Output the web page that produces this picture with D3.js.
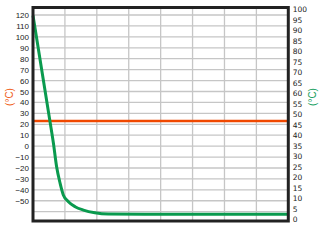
<!DOCTYPE html>
<html>
<head>
<meta charset="utf-8">
<script src="https://cdn.jsdelivr.net/npm/d3@7"></script>
<style>
  html, body { margin: 0; padding: 0; background: #fff; }
  .tick text { fill: #222; }
</style>
</head>
<body>
<div id="chart"></div>
<script>
"use strict";

// left axis (orange, °C), right axis (green, °C)
const leftTicks = [120, 110, 100, 90, 80, 70, 60, 50, 40, 30, 20, 10, 0, -10, -20, -30, -40, -50];
const leftGrid = [120, 110, 100, 90, 80, 70, 60, 50, 40, 30, 20, 10, 0, -10, -20, -30, -40, -50, -60];
const rightTicks = [100, 95, 90, 85, 80, 75, 70, 65, 60, 55, 50, 45, 40, 35, 30, 25, 20, 15, 10, 5, 0];
const xGrid = [10, 20, 30, 40, 50, 60, 70];

// green cooling curve (right axis)
const greenTime = [0, 5.3, 6.4, 7.4, 8.5, 9.5, 11.1, 13.2, 15.8, 19.4, 23.6, 35, 52, 80];
const greenTemp = [97, 46.8, 36.2, 25.0, 17.1, 11.6, 8.4, 6.0, 4.4, 3.1, 2.5, 2.4, 2.4, 2.4];

// orange constant line (left axis)
const orangeTemp = 23;

const W = 324, H = 246;
const frame = { left: 33, right: 288.3, top: 7.5, bottom: 221 };

const svg = d3.select('#chart')
  .append('svg')
  .attr('width', W)
  .attr('height', H);

const x = d3.scaleLinear()
  .domain([0, 80])
  .range([frame.left, frame.right]);

const yLeft = d3.scaleLinear()
  .domain([-60, 120])
  .range([211.7, 15]);

const yRight = d3.scaleLinear()
  .domain([0, 100])
  .range([219.3, 9.3]);

// grid
const grid = svg.append('g')
  .attr('stroke', '#c6c6c6')
  .attr('stroke-width', 1.3);

grid.selectAll('line.h')
  .data(leftGrid)
  .enter().append('line')
  .attr('class', 'h')
  .attr('x1', frame.left)
  .attr('x2', frame.right)
  .attr('y1', d => yLeft(d))
  .attr('y2', d => yLeft(d));

grid.selectAll('line.v')
  .data(xGrid)
  .enter().append('line')
  .attr('class', 'v')
  .attr('x1', d => x(d))
  .attr('x2', d => x(d))
  .attr('y1', frame.top)
  .attr('y2', frame.bottom);

// orange line
svg.append('line')
  .attr('x1', frame.left)
  .attr('x2', frame.right)
  .attr('y1', yLeft(orangeTemp))
  .attr('y2', yLeft(orangeTemp))
  .attr('stroke', '#f04800')
  .attr('stroke-width', 2.6);

// green curve
const greenData = greenTime.map((t, i) => ({ x: t, y: greenTemp[i] }));

const line = d3.line()
  .x(d => x(d.x))
  .y(d => yRight(d.y))
  .curve(d3.curveMonotoneX);

svg.append('path')
  .datum(greenData)
  .attr('d', line)
  .attr('fill', 'none')
  .attr('stroke', '#0a9a4e')
  .attr('stroke-width', 3);

// frame
svg.append('rect')
  .attr('x', frame.left)
  .attr('y', frame.top)
  .attr('width', frame.right - frame.left)
  .attr('height', frame.bottom - frame.top)
  .attr('fill', 'none')
  .attr('stroke', '#222')
  .attr('stroke-width', 3);

// axes
const leftAxis = svg.append('g')
  .attr('transform', 'translate(' + frame.left + ',0)')
  .call(d3.axisLeft(yLeft).tickValues(leftTicks).tickSize(0).tickPadding(4));
leftAxis.select('.domain').remove();
leftAxis.selectAll('text')
  .attr('font-family', 'Liberation Sans, Arial, sans-serif')
  .attr('font-size', 8);

const rightAxis = svg.append('g')
  .attr('transform', 'translate(' + frame.right + ',0)')
  .call(d3.axisRight(yRight).tickValues(rightTicks).tickSize(0).tickPadding(4.5));
rightAxis.select('.domain').remove();
rightAxis.selectAll('text')
  .attr('font-family', 'DejaVu Sans, Verdana, sans-serif')
  .attr('font-size', 7.5);

// axis titles
svg.append('text')
  .attr('transform', 'translate(13,97) rotate(-90)')
  .attr('text-anchor', 'middle')
  .attr('font-family', 'Liberation Sans, Arial, sans-serif')
  .attr('font-size', 10)
  .attr('fill', '#f06020')
  .text('(°C)');

svg.append('text')
  .attr('transform', 'translate(316,97) rotate(-90)')
  .attr('text-anchor', 'middle')
  .attr('font-family', 'Liberation Sans, Arial, sans-serif')
  .attr('font-size', 10)
  .attr('fill', '#20a060')
  .text('(°C)');
</script>
</body>
</html>
